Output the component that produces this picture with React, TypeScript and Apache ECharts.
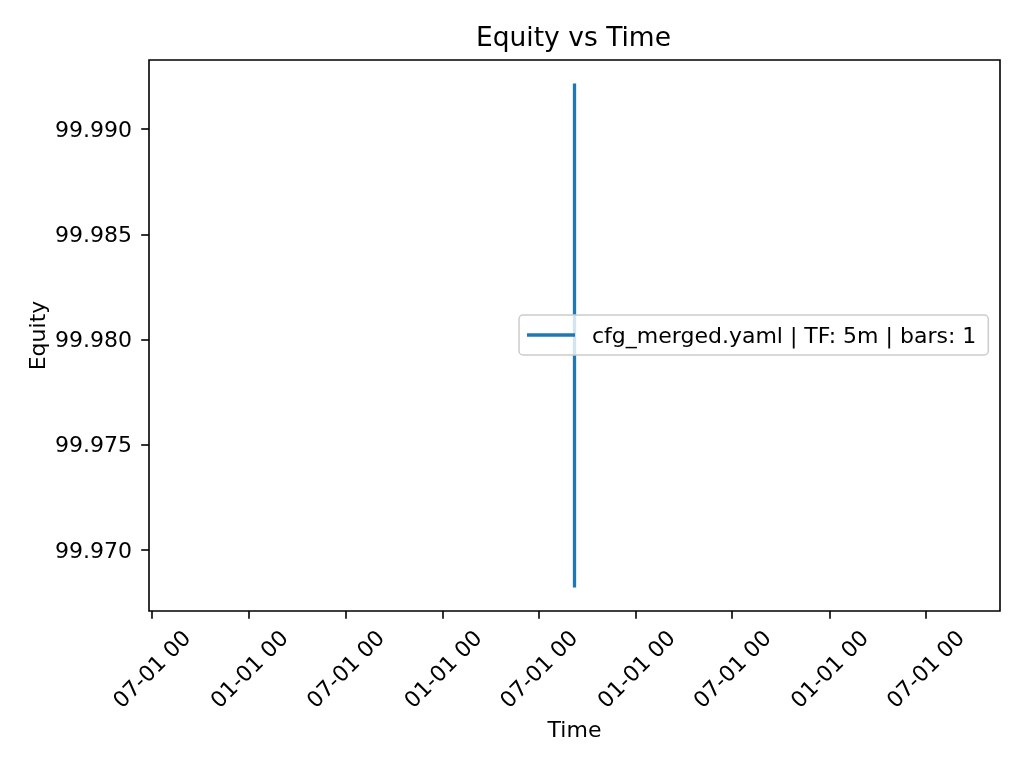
import React, { useEffect, useRef } from "react";
import * as echarts from "echarts";

const seriesName = "cfg_merged.yaml | TF: 5m | bars: 1";
const pointTimes = ["2025-09-06T12:00:00Z", "2025-09-06T12:00:00Z"];
const equityValues = [99.99209, 99.9683];
const xTickDates = [
  "2023-07-01T00:00:00Z",
  "2024-01-01T00:00:00Z",
  "2024-07-01T00:00:00Z",
  "2025-01-01T00:00:00Z",
  "2025-07-01T00:00:00Z",
  "2026-01-01T00:00:00Z",
  "2026-07-01T00:00:00Z",
  "2027-01-01T00:00:00Z",
  "2027-07-01T00:00:00Z",
];
const xTickLabels = [
  "07-01 00",
  "01-01 00",
  "07-01 00",
  "01-01 00",
  "07-01 00",
  "01-01 00",
  "07-01 00",
  "01-01 00",
  "07-01 00",
];
const yTickValues = [99.97, 99.975, 99.98, 99.985, 99.99];

const FONT = "DejaVu Sans";

export default function App() {
  const ref = useRef<HTMLDivElement>(null);
  useEffect(() => {
    document.body.style.margin = "0";
    const chart = echarts.init(ref.current!, null, { renderer: "svg" });
    const times = pointTimes.map((t) => Date.parse(t));
    const xTicks = xTickDates.map((t) => Date.parse(t));
    // matplotlib: degenerate date range expanded by +-2 years, then 5% margins
    const DAY = 86400000;
    const tMin = Math.min(...times) - 2 * 365.2425 * DAY;
    const tMax = Math.max(...times) + 2 * 365.2425 * DAY;
    const xPad = (tMax - tMin) * 0.05;
    const yLo = Math.min(...equityValues);
    const yHi = Math.max(...equityValues);
    const yPad = (yHi - yLo) * 0.05;
    const data = times.map((t, i) => [t, equityValues[i]]);

    chart.setOption({
      animation: false,
      textStyle: { fontFamily: FONT, color: "#000" },
      title: {
        text: "Equity vs Time",
        left: 476,
        top: 23,
        padding: 0,
        textStyle: { fontFamily: FONT, fontSize: 26.5, fontWeight: "normal", color: "#000" },
      },
      legend: {
        show: true,
        left: 519,
        top: 315,
        orient: "horizontal",
        padding: [9, 12, 9, 8],
        icon: "rect",
        itemWidth: 48,
        itemHeight: 3.3,
        itemStyle: { color: "#1f77b4", borderWidth: 0 },
        backgroundColor: "rgba(255,255,255,0.8)",
        borderColor: "#cccccc",
        borderWidth: 1.5,
        borderRadius: 4,
        textStyle: { fontFamily: FONT, fontSize: 22, color: "#000", padding: [0, 0, 0, 12] },
        data: [seriesName],
      },
      grid: {
        left: 149,
        right: 24,
        top: 60,
        bottom: 157,
        show: true,
        borderColor: "#000",
        borderWidth: 1.6,
        backgroundColor: "transparent",
      },
      xAxis: {
        type: "value",
        min: tMin - xPad,
        max: tMax + xPad,
        name: "Time",
        nameLocation: "middle",
        nameGap: 107,
        nameTextStyle: { fontFamily: FONT, fontSize: 22, color: "#000" },
        axisLine: { show: false },
        splitLine: { show: false },
        axisTick: {
          show: true,
          length: 7.8,
          lineStyle: { color: "#000", width: 1.6 },
          customValues: xTicks,
        },
        axisLabel: {
          customValues: xTicks,
          rotate: 45,
          align: "center",
          verticalAlign: "middle",
          margin: 58,
          fontFamily: FONT,
          fontSize: 22,
          color: "#000",
          formatter: (v: number) => {
            let best = 0;
            for (let i = 0; i < xTicks.length; i++) {
              if (Math.abs(xTicks[i] - v) < Math.abs(xTicks[best] - v)) best = i;
            }
            return xTickLabels[best];
          },
        },
      },
      yAxis: {
        type: "value",
        min: yLo - yPad,
        max: yHi + yPad,
        name: "Equity",
        nameLocation: "middle",
        nameGap: 101,
        nameMoveOverlap: false,
        nameTextStyle: { fontFamily: FONT, fontSize: 22, color: "#000" },
        axisLine: { show: false },
        splitLine: { show: false },
        axisTick: {
          show: true,
          length: 7.8,
          lineStyle: { color: "#000", width: 1.6 },
          customValues: yTickValues,
        },
        axisLabel: {
          customValues: yTickValues,
          margin: 17,
          fontFamily: FONT,
          fontSize: 22,
          color: "#000",
          formatter: (v: number) => v.toFixed(3),
        },
      },
      series: [
        {
          name: seriesName,
          type: "line",
          data,
          symbol: "none",
          showSymbol: false,
          lineStyle: { color: "#1f77b4", width: 3.3, cap: "square" },
          itemStyle: { color: "#1f77b4" },
        },
      ],
    });
    return () => chart.dispose();
  }, []);
  return (
    <div
      ref={ref}
      style={{ position: "fixed", left: 0, top: 0, width: 1024, height: 768 }}
    />
  );
}
